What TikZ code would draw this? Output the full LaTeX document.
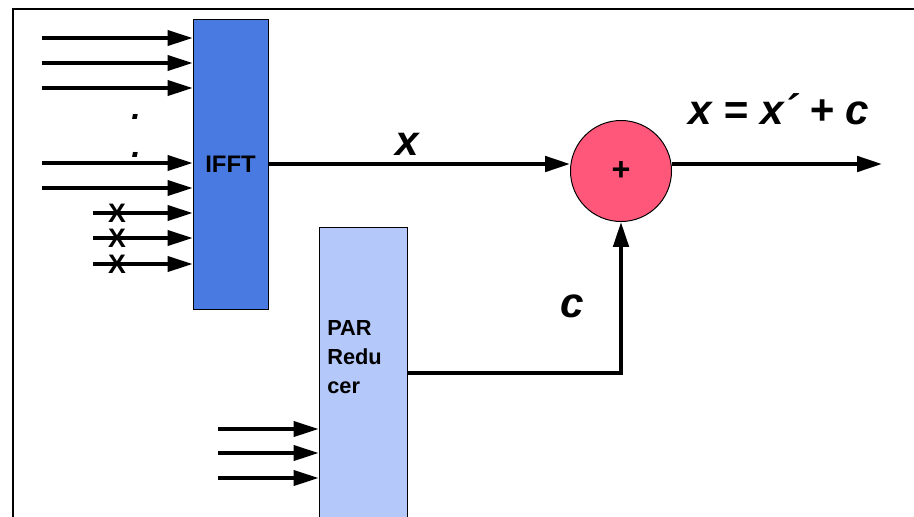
\documentclass[tikz,border=0pt]{standalone}
\usepackage{fontspec}
\setmainfont{Liberation Sans}
\usetikzlibrary{arrows.meta,positioning,calc}
\definecolor{ifftblue}{RGB}{72,122,226}
\definecolor{parblue}{RGB}{180,200,250}
\definecolor{sumred}{RGB}{255,87,122}
\tikzset{
	sig/.style={line width=2.2pt,-{Triangle[length=0.62cm,width=0.38cm]}},
	bigsig/.style={line width=2.8pt,-{Triangle[length=0.62cm,width=0.38cm]}},
	blockbox/.style={draw,line width=0.7pt,inner sep=0pt},
	biglab/.style={font=\fontsize{30}{30}\selectfont\bfseries\itshape,inner sep=0pt,anchor=base},
	dotlab/.style={font=\fontsize{24}{24}\selectfont\bfseries\itshape,inner sep=0pt,anchor=base}
}
\begin{document}
\begin{tikzpicture}[x=0.025cm,y=-0.025cm]
			\useasboundingbox (0,0) rectangle (914,516);
			% frame
			\draw[line width=1.4pt] (914,9) -- (13,9) -- (13,520);
			% blocks
			\node[blockbox,fill=ifftblue,minimum width=1.875cm,minimum height=7.225cm,
				font=\fontsize{17}{20}\selectfont\bfseries] (ifft) at (230.5,164.5) {IFFT};
			\node[blockbox,fill=parblue,minimum width=2.2cm,minimum height=7.6cm,anchor=north] (par) at (363,227) {};
			\node[anchor=north west,align=left,inner sep=0pt,
				font=\fontsize{15.5}{20.8}\selectfont\bfseries] (partxt) at (327,320) {PAR\\Redu\\cer};
			\node[circle,draw,line width=0.7pt,fill=sumred,minimum size=2.525cm,inner sep=0pt,
				font=\fontsize{23}{23}\selectfont\bfseries] (sum) at (621,171) {+};
			% IFFT inputs
			\foreach \y in {38,63,88,163,188} \draw[sig] (42,\y) -- (ifft.west |- 0,\y);
			\foreach \y [count=\i] in {213,238,264} {
				\draw[sig] (93,\y) -- (ifft.west |- 0,\y);
				\node[font=\fontsize{19}{19}\selectfont\bfseries,inner sep=0pt] (cut\i) at (117,\y) {X};
			}
			\node[dotlab] (dota) at (136,119) {.};
			\node[dotlab] (dotb) at (136,157) {.};
			% PAR inputs
			\foreach \y in {429,453,478} \draw[sig] (218,\y) -- (par.west |- 0,\y);
			% signal path
			\coordinate (out) at (882,164);
			\draw[bigsig] (ifft.east |- 0,164) -- (sum.west |- 0,164);
			\draw[bigsig] (sum.east |- 0,164) -- (out);
			\draw[bigsig] (par.east |- 0,373) -| (sum.south);
			% labels
			\node[biglab] (xlab) at (407,155) {x};
			\node[biglab] (clab) at (572,317) {c};
			\node[biglab] (eqlab) at (779,124) {x = x´ + c};
		\end{tikzpicture}
\end{document}
